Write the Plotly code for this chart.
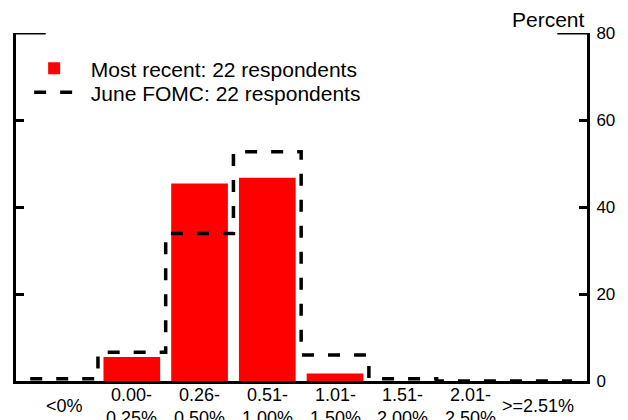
import plotly.graph_objects as go

categories = ["<0%", "0.00-<br>0.25%", "0.26-<br>0.50%", "0.51-<br>1.00%",
              "1.01-<br>1.50%", "1.51-<br>2.00%", "2.01-<br>2.50%", ">=2.51%"]
most_recent = [0.0, 5.5, 45.4, 46.7, 1.7, 0.0, 0.0, 0.0]
june_fomc = [0.5, 6.6, 33.9, 52.7, 6.0, 0.5, 0.0, 0.0]
y_ticks = [0, 20, 40, 60, 80]

FONT = "Liberation Sans, Arial, sans-serif"
NB = "\u00a0\u00a0"
idx = list(range(len(categories)))

fig = go.Figure()
fig.add_trace(go.Bar(
    x=idx, y=most_recent, name=NB + "Most recent: 22 respondents",
    marker=dict(color="#ff0000", line=dict(width=0)), width=0.837,
    legend="legend",
))
step_x = [i - 0.5 for i in idx] + [idx[-1] + 0.5]
step_y = june_fomc + [june_fomc[-1]]
fig.add_trace(go.Scatter(
    x=step_x, y=step_y, mode="lines", line_shape="hv",
    name=NB + "June FOMC: 22 respondents",
    line=dict(color="black", width=3.5, dash="12px,14px"),
    legend="legend2",
))

for i, lab in zip(idx, categories):
    fig.add_annotation(x=i, xref="x", y=0, yref="paper", yanchor="middle",
                       yshift=-25, text=lab, showarrow=False,
                       font=dict(family=FONT, size=18, color="black"))

fig.add_annotation(x=1, xref="paper", xanchor="right", y=1.038, yref="paper",
                   yanchor="middle", text="Percent", showarrow=False,
                   font=dict(family=FONT, size=21, color="black"))

for x0, x1 in [(0, 0.052), (0.948, 1)]:
    fig.add_shape(type="line", xref="paper", yref="y", x0=x0, x1=x1,
                  y0=80, y1=80, line=dict(color="black", width=3))

leg_common = dict(x=0.023, xanchor="left", yanchor="middle",
                  bgcolor="rgba(0,0,0,0)", itemwidth=40,
                  font=dict(family=FONT, size=21, color="black"))

fig.update_layout(
    width=620, height=412,
    margin=dict(l=5, r=41, t=25, b=39),
    paper_bgcolor="white", plot_bgcolor="white",
    font=dict(family=FONT, color="black"),
    showlegend=True,
    legend=dict(y=0.8974, **leg_common),
    legend2=dict(y=0.8284, **leg_common),
    xaxis=dict(range=[-0.71, 7.72], showline=True, linecolor="black",
               linewidth=3, showticklabels=False, ticks="", showgrid=False,
               zeroline=False, mirror=False),
    yaxis=dict(range=[0, 80], side="right", tickvals=y_ticks,
               ticks="inside", ticklen=8, tickwidth=3, tickcolor="black",
               showline=True, linecolor="black", linewidth=3, mirror="ticks",
               showgrid=False, zeroline=False, ticklabelstandoff=3,
               tickfont=dict(family=FONT, size=17, color="black")),
)

fig.write_html("out.html")
